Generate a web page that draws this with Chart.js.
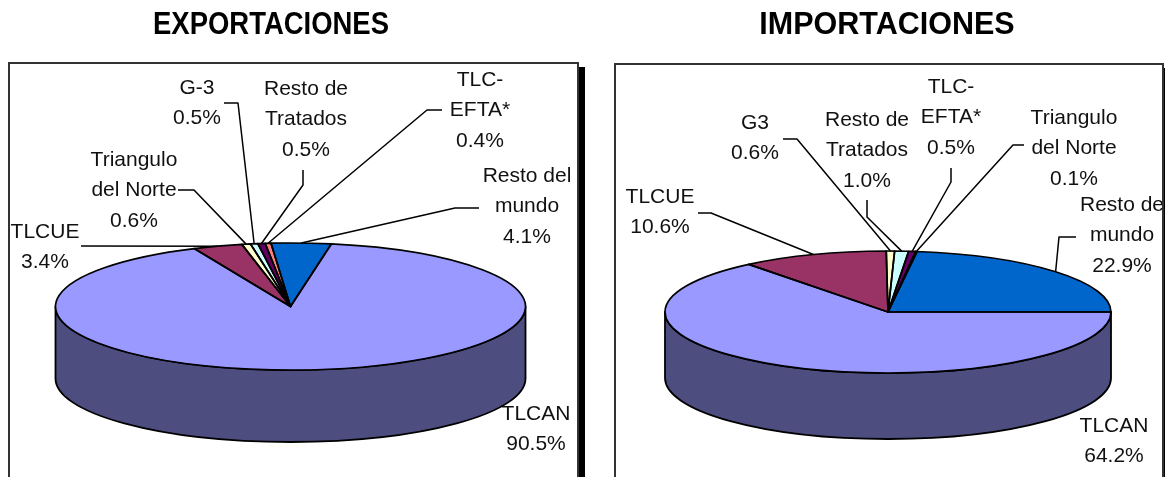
<!DOCTYPE html>
<html><head><meta charset="utf-8">
<style>
html,body{margin:0;padding:0;background:#fff;width:1165px;height:477px;overflow:hidden}
.p{position:absolute;top:0;height:477px}
canvas{filter:blur(.6px)}
</style>
<script src="https://cdn.jsdelivr.net/npm/chart.js@4"></script>
</head><body>
<div class="p" style="left:0;width:590px"><canvas id="a"></canvas></div>
<div class="p" style="left:590px;width:575px"><canvas id="b"></canvas></div>
<script>
const expCategories = ["TLCAN","TLCUE","Triangulo del Norte","G-3","Resto de Tratados","TLC-EFTA*","Resto del mundo"];
const expValues = [90.5,3.4,0.6,0.5,0.5,0.4,4.1];
const impCategories = ["TLCAN","TLCUE","G3","Resto de Tratados","TLC-EFTA*","Triangulo del Norte","Resto de mundo"];
const impValues = [64.2,10.6,0.6,1.0,0.5,0.1,22.9];
const expLabelLines = [["TLCAN"],["TLCUE"],["Triangulo","del Norte"],["G-3"],["Resto de","Tratados"],["TLC-","EFTA*"],["Resto del","mundo"]];
const impLabelLines = [["TLCAN"],["TLCUE"],["G3"],["Resto de","Tratados"],["TLC-","EFTA*"],["Triangulo","del Norte"],["Resto de","mundo"]];
const sliceColors = ["#9999FF","#993366","#FFFFCC","#CCFFFF","#660066","#FF8080","#0066CC"];
const sideColor = "#4D4D80";

const leftLayout = {
  title:{text:"EXPORTACIONES",x:271,y:26,size:30.5,sx:0.9},
  frame:{l:9,t:63,r:578,shadow:7,bottom:500},
  pie:{cx:290.5,cy:306.5,rx:235,ry:63.5,depth:72},
  rotation:10,
  labels:[
    {x:536,y:414},{x:45,y:232},{x:134,y:160},{x:197,y:88},{x:306,y:89},{x:480,y:80},{x:527,y:176}
  ],
  leaders:[null,[[81,246]],[[178,190],[194,190]],[[224,103],[238,103]],[[303,170],[303,185]],[[442,110],[427,110]],[[479,208],[455,208]]]
};
const rightLayout = {
  title:{text:"IMPORTACIONES",x:887,y:26,size:30.5,sx:1},
  frame:{l:615,t:64,r:1163,shadow:3,bottom:500},
  pie:{cx:888,cy:312,rx:223,ry:61,depth:66},
  rotation:90,
  labels:[
    {x:1114,y:426},{x:660,y:197},{x:755,y:123},{x:867,y:120},{x:951,y:87},{x:1074,y:118},{x:1122,y:205}
  ],
  leaders:[null,[[698,213],[711,213]],[[783,139],[797,139]],[[867,200],[867,217]],[[951,168],[951,182]],[[1024,145],[1013,145]],[[1076,237],[1059,237]]]
};

function makeChart(id,offsetX,cats,vals,lines,L){
  const P=L.pie;
  const map=(ctx,c,arc)=>{
    const r=arc.outerRadius;
    ctx.translate(P.cx-offsetX,P.cy);
    ctx.scale(P.rx/r,P.ry/r);
    ctx.translate(-arc.x,-arc.y);
  };
  const plugin={
    id:"pie3d",
    beforeDatasetDraw(c){
      const ctx=c.ctx,cx=P.cx-offsetX,cy=P.cy;
      ctx.save();
      ctx.beginPath();
      ctx.ellipse(cx,cy+P.depth,P.rx,P.ry,0,Math.PI,0,true);
      ctx.lineTo(cx+P.rx,cy);
      ctx.ellipse(cx,cy,P.rx,P.ry,0,0,Math.PI,false);
      ctx.closePath();
      ctx.fillStyle=sideColor;ctx.strokeStyle="#000";ctx.lineWidth=1.8;ctx.lineJoin="round";
      ctx.fill();ctx.stroke();
      ctx.restore();
      ctx.save();
      map(ctx,c,c.getDatasetMeta(0).data[0]);
    },
    afterDatasetDraw(c){
      const ctx=c.ctx;
      ctx.restore();
      c.getDatasetMeta(0).data.forEach(arc=>{
        ctx.save();
        map(ctx,c,arc);
        ctx.beginPath();
        ctx.moveTo(arc.x,arc.y);
        ctx.arc(arc.x,arc.y,arc.outerRadius,arc.startAngle,arc.endAngle);
        ctx.closePath();
        ctx.restore();
        ctx.strokeStyle="#000";ctx.lineWidth=1.7;ctx.lineJoin="round";
        ctx.stroke();
      });
    },
    beforeDraw(c){
      const ctx=c.ctx,F=L.frame,l=F.l-offsetX,r=F.r-offsetX;
      ctx.save();
      ctx.fillStyle="#fff";ctx.fillRect(0,0,c.width,c.height);
      if(F.shadow){ctx.fillStyle="#000";ctx.fillRect(r,F.t+4,F.shadow,F.bottom-F.t);}
      ctx.strokeStyle="#333";ctx.lineWidth=2;
      ctx.beginPath();ctx.moveTo(l,F.bottom);ctx.lineTo(l,F.t);ctx.lineTo(r,F.t);ctx.lineTo(r,F.bottom);ctx.stroke();
      ctx.restore();
    },
    afterDraw(c){
      const ctx=c.ctx,meta=c.getDatasetMeta(0).data,F=L.frame;
      ctx.save();
      // title, condensed horizontally where the source is narrower
      ctx.fillStyle="#000";ctx.textAlign="center";ctx.textBaseline="middle";
      ctx.font=`bold ${L.title.size}px "Liberation Sans"`;
      ctx.save();
      ctx.translate(L.title.x-offsetX,L.title.y);
      ctx.scale(L.title.sx,1);
      ctx.fillText(L.title.text,0,0);
      ctx.restore();
      // leaders run from the elbow points to the rim at the slice's mid angle
      ctx.strokeStyle="#000";ctx.lineWidth=1.5;
      L.leaders.forEach((pts,i)=>{
        if(!pts)return;
        const a=(meta[i].startAngle+meta[i].endAngle)/2;
        ctx.beginPath();
        pts.forEach((p,k)=>k?ctx.lineTo(p[0]-offsetX,p[1]):ctx.moveTo(p[0]-offsetX,p[1]));
        ctx.lineTo(P.cx-offsetX+P.rx*Math.cos(a),P.cy+P.ry*Math.sin(a));
        ctx.stroke();
      });
      // labels
      ctx.beginPath();ctx.rect(F.l-offsetX,F.t,F.r-F.l-1,500);ctx.clip();
      ctx.font='21px "Liberation Sans"';ctx.fillStyle="#111";
      lines.forEach((ls,i)=>{
        const all=ls.concat([vals[i].toFixed(1)+"%"]);
        all.forEach((t,k)=>ctx.fillText(t,L.labels[i].x-offsetX,L.labels[i].y+k*30.5));
      });
      ctx.restore();
    }
  };
  return new Chart(document.getElementById(id),{
    type:"pie",
    data:{labels:cats,datasets:[{data:vals,backgroundColor:sliceColors,borderWidth:0,clip:false}]},
    options:{responsive:true,maintainAspectRatio:false,animation:false,events:[],rotation:L.rotation,
      plugins:{legend:{display:false},tooltip:{enabled:false},title:{display:false}}},
    plugins:[plugin]
  });
}
makeChart("a",0,expCategories,expValues,expLabelLines,leftLayout);
makeChart("b",590,impCategories,impValues,impLabelLines,rightLayout);
</script>
</body></html>
